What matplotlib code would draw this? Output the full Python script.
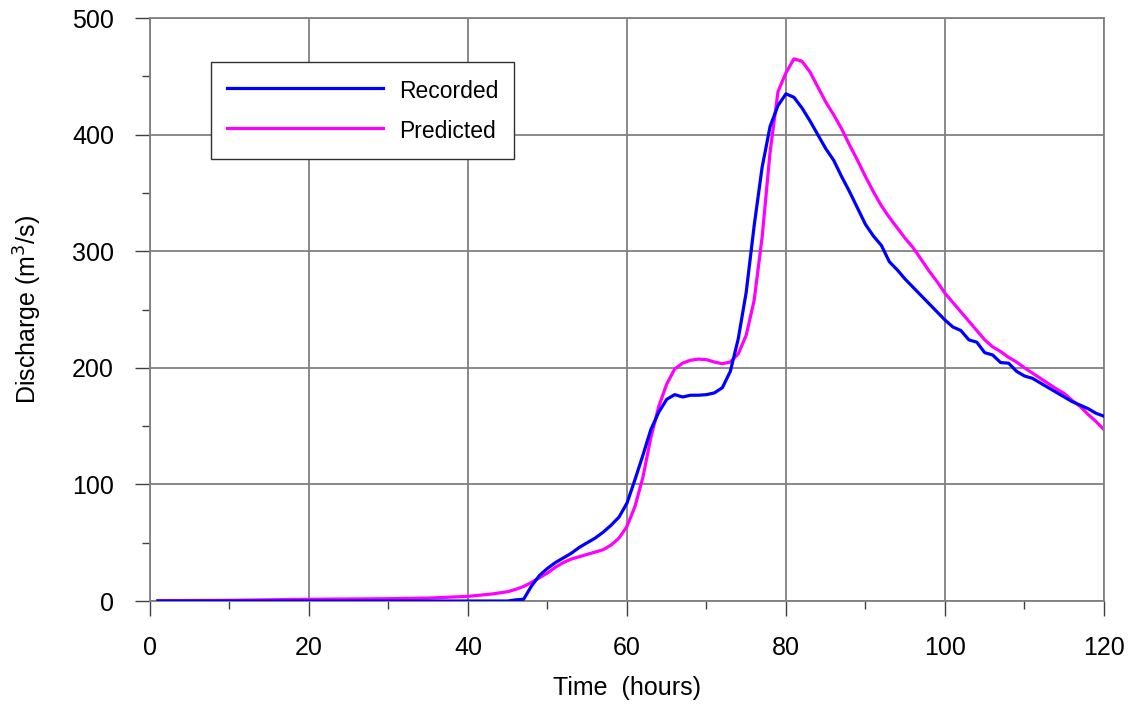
import matplotlib
matplotlib.use("Agg")
import matplotlib.pyplot as plt
from matplotlib.ticker import MultipleLocator

plt.rcParams['font.family'] = ['Liberation Sans', 'DejaVu Sans']

rec_t = [1, 45, 46, 47, 48, 49, 50, 51, 52, 53, 54, 55, 56, 57, 58, 59, 60,
         61, 62, 63, 64, 65, 66, 67, 68, 69, 70, 71, 72, 73, 74, 75, 76, 77,
         78, 79, 80, 81, 82, 83, 84, 85, 86, 87, 88, 89, 90, 91, 92, 93, 94,
         95, 96, 97, 98, 99, 100, 101, 102, 103, 104, 105, 106, 107, 108, 109,
         110, 111, 112, 113, 114, 115, 116, 117, 118, 119, 120]
rec_q = [0, 0, 1, 1.5, 13, 22, 28, 33, 37, 41, 46, 50, 54, 59, 65, 72, 84,
         104, 125, 147, 162, 173, 177, 175, 176.5, 176.5, 177, 178.5, 183, 197,
         225, 265, 322, 372, 407, 425, 435, 432, 423, 412, 400, 388, 378, 364,
         351, 337, 323, 313, 305, 291, 284, 276, 269, 262, 255, 248, 241, 235,
         232, 224, 222, 213, 211, 204.5, 204, 197, 193, 191, 187, 183, 179, 175,
         171, 168, 165, 161, 158.5]

pred_t = [1, 10, 20, 30, 35, 40, 43, 45, 46, 47, 48, 49, 50, 51, 52, 53, 54,
          55, 56, 57, 58, 59, 60, 61, 62, 63, 64, 65, 66, 67, 68, 69, 70, 71,
          72, 73, 74, 75, 76, 77, 78, 79, 80, 81, 82, 83, 84, 85, 86, 87, 88,
          89, 90, 91, 92, 93, 94, 95, 96, 97, 98, 99, 100, 101, 102, 103, 104,
          105, 106, 107, 108, 109, 110, 111, 112, 113, 114, 115, 116, 117, 118,
          119, 120]
pred_q = [0.3, 0.6, 1.5, 2, 2.5, 4, 6, 8, 10, 12.5, 16, 20, 24, 29, 33, 36, 38,
          40, 42, 44, 48, 54, 64, 81, 106, 140, 167, 186, 199, 204, 206.5, 207.5,
          207, 205, 203.5, 205, 212, 228, 258, 312, 385, 437, 453, 465, 463, 454,
          441, 428, 417, 405, 391, 378, 364, 351, 339, 329, 320, 311, 303, 293,
          283, 274, 264, 256, 248, 240, 232, 224, 218, 214, 209, 205, 200, 195.5,
          191, 186.5, 182, 178, 172, 167, 160, 154, 147]

fig = plt.figure(figsize=(11.38, 7.07), dpi=100)
ax = fig.add_axes([0.1318, 0.1499, 0.8383, 0.8246])

ax.plot(rec_t, rec_q, color='#0000FF', lw=2.3, label='Recorded', zorder=3)
ax.plot(pred_t, pred_q, color='#FF00FF', lw=2.3, label='Predicted', zorder=2)

ax.set_xlim(0, 120)
ax.set_ylim(0, 500)
ax.xaxis.set_major_locator(MultipleLocator(20))
ax.xaxis.set_minor_locator(MultipleLocator(10))
ax.yaxis.set_major_locator(MultipleLocator(100))
ax.yaxis.set_minor_locator(MultipleLocator(50))
ax.grid(True, which='major', color='#808080', lw=1.3)
ax.set_axisbelow(True)
for s in ax.spines.values():
    s.set_color('#808080')
    s.set_linewidth(1.3)
ax.tick_params(which='major', length=11, width=1.0, color='#404040',
               labelsize=18, direction='out')
ax.tick_params(axis='x', which='major', pad=14)
ax.tick_params(axis='y', which='major', pad=15)
ax.tick_params(which='minor', length=6, width=1.0, color='#404040', direction='out')

ax.set_xlabel('Time  (hours)', fontsize=18, labelpad=12)
ax.set_ylabel('Discharge (m$^3$/s)', fontsize=18, labelpad=20)

leg = ax.legend(loc='upper left', bbox_to_anchor=(0.064, 0.9245), borderaxespad=0,
                fontsize=16.5, handlelength=6.8, handletextpad=0.7, borderpad=0.7,
                handleheight=1.2, labelspacing=0.7, fancybox=False, framealpha=1,
                edgecolor='#303030')
leg.get_frame().set_linewidth(1.0)

fig.savefig('out.png', dpi=100)
